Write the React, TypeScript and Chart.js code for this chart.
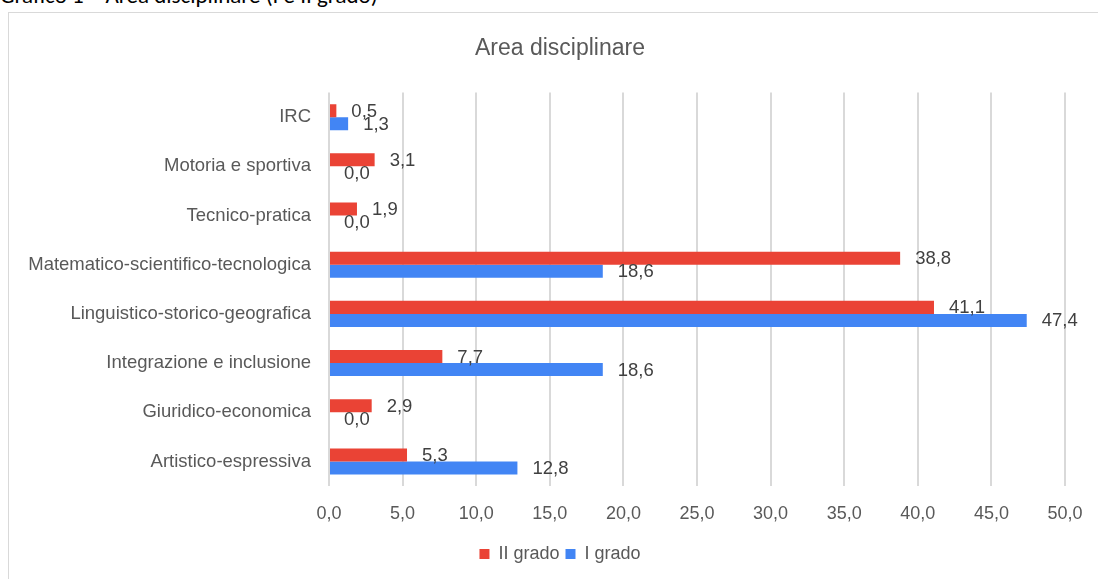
import React, { useEffect, useRef } from "react";
import { Chart, registerables } from "chart.js";

Chart.register(...registerables);

const categories = [
  "IRC",
  "Motoria e sportiva",
  "Tecnico-pratica",
  "Matematico-scientifico-tecnologica",
  "Linguistico-storico-geografica",
  "Integrazione e inclusione",
  "Giuridico-economica",
  "Artistico-espressiva",
];
const secondoGrado = [0.5, 3.1, 1.9, 38.8, 41.1, 7.7, 2.9, 5.3];
const primoGrado = [1.3, 0.0, 0.0, 18.6, 47.4, 18.6, 0.0, 12.8];
const seriesNames = ["II grado", "I grado"];
const chartTitle = "Area disciplinare";
const heading = "Grafico 1 – Area disciplinare (I e II grado)";

const fmt = (v: number) => v.toFixed(1).replace(".", ",");

const labelPlugin = {
  id: "valueLabels",
  afterDatasetsDraw(chart: any) {
    const ctx = chart.ctx;
    ctx.save();
    ctx.font = "18.5px 'Liberation Sans', Arial, sans-serif";
    ctx.fillStyle = "#404040";
    ctx.textAlign = "left";
    ctx.textBaseline = "middle";
    chart.data.datasets.forEach((ds: any, i: number) => {
      const meta = chart.getDatasetMeta(i);
      meta.data.forEach((el: any, j: number) => {
        ctx.fillText(fmt(ds.data[j]), el.x + 15, el.y + 1);
      });
    });
    ctx.restore();
  },
};

const CW = 1104;
const CH = 567;

export default function App() {
  const ref = useRef<HTMLCanvasElement>(null);
  useEffect(() => {
    if (!ref.current) return;
    const font = "'Liberation Sans', Arial, sans-serif";
    const chart = new Chart(ref.current, {
      type: "bar",
      data: {
        labels: categories,
        datasets: [
          { label: seriesNames[0], data: secondoGrado, backgroundColor: "#EA4335", borderWidth: 0 },
          { label: seriesNames[1], data: primoGrado, backgroundColor: "#4285F4", borderWidth: 0 },
        ],
      },
      options: {
        indexAxis: "y",
        animation: false,
        responsive: false,
        maintainAspectRatio: false,
        layout: { padding: { left: 0, right: 0, top: 0, bottom: 6 } },
        datasets: { bar: { barPercentage: 1, categoryPercentage: 0.53 } },
        scales: {
          x: {
            min: 0,
            max: 50,
            ticks: {
              stepSize: 5,
              color: "#595959",
              font: { size: 18, family: font },
              padding: 17,
              callback: (v: any) => fmt(Number(v)),
            },
            grid: { color: "#d9d9d9", lineWidth: 2, drawTicks: false },
            border: { display: false },
            afterFit: (s: any) => { s.height = 53; },
          },
          y: {
            ticks: { color: "#595959", font: { size: 18.5, family: font }, padding: 18 },
            grid: { display: false, drawTicks: false },
            border: { display: false },
            afterFit: (s: any) => { s.width = 321; },
          },
          yRight: {
            type: "category",
            position: "right",
            display: true,
            ticks: { display: false },
            grid: { display: false, drawTicks: false },
            border: { display: false },
            afterFit: (s: any) => { s.width = 47; },
          },
        },
        plugins: {
          title: {
            display: true,
            text: chartTitle,
            color: "#595959",
            font: { size: 23, family: font, weight: "normal" },
            padding: { top: 23, bottom: 30 },
          },
          legend: {
            position: "bottom",
            labels: {
              color: "#595959",
              font: { size: 18, family: font },
              boxWidth: 10,
              boxHeight: 10,
              padding: 6,
            },
          },
          tooltip: { enabled: false },
        },
      },
      plugins: [labelPlugin],
    });
    return () => chart.destroy();
  }, []);

  return (
    <div style={{ position: "absolute", left: 0, top: 0, width: 1098, height: 579, overflow: "hidden", background: "#fff" }}>
      <div
        style={{
          position: "absolute",
          left: 0,
          top: -18,
          whiteSpace: "nowrap",
          fontFamily: "Carlito, Lato, sans-serif",
          fontSize: 23,
          lineHeight: "27px",
          color: "#000",
        }}
      >
        {heading}
      </div>
      <div
        style={{
          position: "absolute",
          left: 8,
          top: 12,
          width: 1120,
          height: 580,
          border: "1px solid #d9d9d9",
          boxSizing: "border-box",
        }}
      />
      <canvas ref={ref} width={CW} height={CH} style={{ position: "absolute", left: 8, top: 12, width: CW, height: CH }} />
    </div>
  );
}
